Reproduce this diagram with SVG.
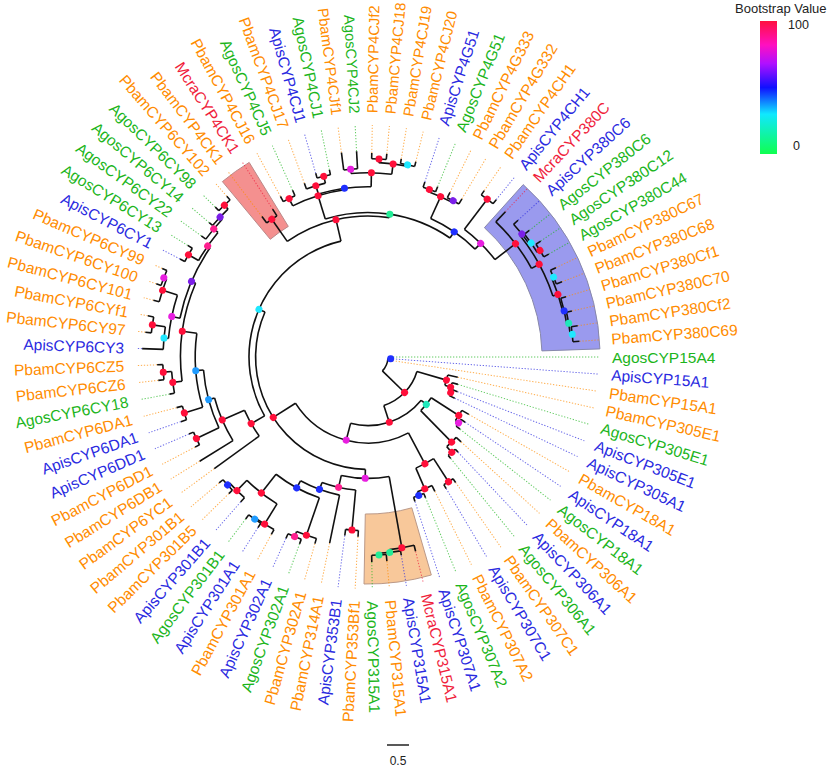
<svg xmlns="http://www.w3.org/2000/svg" width="827" height="768" viewBox="0 0 827 768">
<style>
text{font-family:"Liberation Sans",Arial,Helvetica,sans-serif}
#hl path{stroke-width:1}
#cn circle{fill:none;stroke:#111;stroke-width:1.6}
#cn path{fill:none;stroke:#111;stroke-width:1.6}
#lv path{fill:none;stroke-width:1;stroke-dasharray:1.3 1.7;opacity:.7}
#lv text{font-size:15.5px;dominant-baseline:central}
#lv .t text{font-size:14.8px}
#lv .l text{text-anchor:end}
.g path{stroke:#1cb51c}.g text{fill:#1cb51c}
.b path{stroke:#2a2ae0}.b text{fill:#2a2ae0}
.o path{stroke:#ff8c00}.o text{fill:#ff8c00}
.r path{stroke:#f01e3c}.r text{fill:#f01e3c}
.R{fill:#ff0f3a}.P{fill:#ff1f8f}.M{fill:#e81fe0}.V{fill:#7b1fe8}.B{fill:#1f2fff}.S{fill:#1f9bff}.C{fill:#1fe8ff}.T{fill:#1fe8bb}.G{fill:#22ec96}
</style>
<defs>
<linearGradient id="bs" x1="0" y1="0" x2="0" y2="1">
<stop offset="0" stop-color="#ff1040"/><stop offset=".18" stop-color="#ff10c0"/><stop offset=".32" stop-color="#b010ff"/><stop offset=".5" stop-color="#1010ff"/><stop offset=".7" stop-color="#10e8ff"/><stop offset="1" stop-color="#10ff50"/>
</linearGradient>
</defs>
<g transform="translate(368,357)">
<g id="hl">
<path d="M-145.6 -175.4A228 228 0 0 1 -118.8 -194.6L-79.7 -130.6A153 153 0 0 0 -97.7 -117.7Z" fill="#f4908f" stroke="#b88"/>
<path d="M155.2 -172.4A232 232 0 0 1 231.9 -8.1L173.9 -6.1A174 174 0 0 0 116.4 -129.3Z" fill="#9a9aee" stroke="#88a"/>
<path d="M63.3 218A227 227 0 0 1 -4 227L-2.7 157A157 157 0 0 0 43.8 150.8Z" fill="#f8c89a" stroke="#b98"/>
</g>
<g id="lv">
<g id="AgosCYP15A4" class="g"><path d="M25 0H232" transform="rotate(0)"/><text x="244" transform="rotate(0)">AgosCYP15A4</text></g>
<g id="ApisCYP15A1" class="b"><path d="M25 0H232" transform="rotate(4.24)"/><text x="244" transform="rotate(4.24)">ApisCYP15A1</text></g>
<g id="PbamCYP15A1" class="o"><path d="M25 0H232" transform="rotate(8.47)"/><text x="244" transform="rotate(8.47)">PbamCYP15A1</text></g>
<g id="PbamCYP305E1" class="o"><path d="M92 0H232" transform="rotate(12.71)"/><text x="244" transform="rotate(12.71)">PbamCYP305E1</text></g>
<g id="AgosCYP305E1" class="g"><path d="M94 0H232" transform="rotate(16.94)"/><text x="244" transform="rotate(16.94)">AgosCYP305E1</text></g>
<g id="ApisCYP305E1" class="b"><path d="M96 0H232" transform="rotate(21.18)"/><text x="244" transform="rotate(21.18)">ApisCYP305E1</text></g>
<g id="ApisCYP305A1" class="b"><path d="M96 0H232" transform="rotate(25.41)"/><text x="244" transform="rotate(25.41)">ApisCYP305A1</text></g>
<g id="PbamCYP18A1" class="o"><path d="M116 0H232" transform="rotate(29.65)"/><text x="244" transform="rotate(29.65)">PbamCYP18A1</text></g>
<g id="ApisCYP18A1" class="b"><path d="M117 0H232" transform="rotate(33.88)"/><text x="244" transform="rotate(33.88)">ApisCYP18A1</text></g>
<g id="AgosCYP18A1" class="g"><path d="M117 0H232" transform="rotate(38.12)"/><text x="244" transform="rotate(38.12)">AgosCYP18A1</text></g>
<g id="PbamCYP306A1" class="o"><path d="M126 0H232" transform="rotate(42.35)"/><text x="244" transform="rotate(42.35)">PbamCYP306A1</text></g>
<g id="ApisCYP306A1" class="b"><path d="M131 0H232" transform="rotate(46.59)"/><text x="244" transform="rotate(46.59)">ApisCYP306A1</text></g>
<g id="AgosCYP306A1" class="g"><path d="M131 0H232" transform="rotate(50.82)"/><text x="244" transform="rotate(50.82)">AgosCYP306A1</text></g>
<g id="PbamCYP307C1" class="o"><path d="M153 0H232" transform="rotate(55.06)"/><text x="244" transform="rotate(55.06)">PbamCYP307C1</text></g>
<g id="ApisCYP307C1" class="b"><path d="M153 0H232" transform="rotate(59.29)"/><text x="244" transform="rotate(59.29)">ApisCYP307C1</text></g>
<g id="PbamCYP307A2" class="o"><path d="M150 0H232" transform="rotate(63.53)"/><text x="244" transform="rotate(63.53)">PbamCYP307A2</text></g>
<g id="AgosCYP307A2" class="g"><path d="M152 0H232" transform="rotate(67.76)"/><text x="244" transform="rotate(67.76)">AgosCYP307A2</text></g>
<g id="ApisCYP307A1" class="b"><path d="M152 0H232" transform="rotate(72)"/><text x="244" transform="rotate(72)">ApisCYP307A1</text></g>
<g id="McraCYP315A1" class="r"><path d="M200 0H232" transform="rotate(76.24)"/><text x="244" transform="rotate(76.24)">McraCYP315A1</text></g>
<g id="ApisCYP315A1" class="b"><path d="M201 0H232" transform="rotate(80.47)"/><text x="244" transform="rotate(80.47)">ApisCYP315A1</text></g>
<g id="PbamCYP315A1" class="o"><path d="M205 0H232" transform="rotate(84.71)"/><text x="244" transform="rotate(84.71)">PbamCYP315A1</text></g>
<g id="AgosCYP315A1" class="g"><path d="M205 0H232" transform="rotate(88.94)"/><text x="244" transform="rotate(88.94)">AgosCYP315A1</text></g>
<g id="PbamCYP353Bf1" class="o l"><path d="M180 0H232" transform="rotate(93.18)"/><text x="-244" transform="rotate(-86.82)">PbamCYP353Bf1</text></g>
<g id="ApisCYP353B1" class="b l"><path d="M180 0H232" transform="rotate(97.41)"/><text x="-244" transform="rotate(-82.59)">ApisCYP353B1</text></g>
<g id="PbamCYP314A1" class="o l"><path d="M190 0H232" transform="rotate(101.65)"/><text x="-244" transform="rotate(-78.35)">PbamCYP314A1</text></g>
<g id="PbamCYP302A1" class="o l"><path d="M194 0H232" transform="rotate(105.88)"/><text x="-244" transform="rotate(-74.12)">PbamCYP302A1</text></g>
<g id="AgosCYP302A1" class="g l"><path d="M199 0H232" transform="rotate(110.12)"/><text x="-244" transform="rotate(-69.88)">AgosCYP302A1</text></g>
<g id="ApisCYP302A1" class="b l"><path d="M199 0H232" transform="rotate(114.35)"/><text x="-244" transform="rotate(-65.65)">ApisCYP302A1</text></g>
<g id="PbamCYP301A1" class="o l"><path d="M202 0H232" transform="rotate(118.59)"/><text x="-244" transform="rotate(-61.41)">PbamCYP301A1</text></g>
<g id="ApisCYP301A1" class="b l"><path d="M203 0H232" transform="rotate(122.82)"/><text x="-244" transform="rotate(-57.18)">ApisCYP301A1</text></g>
<g id="AgosCYP301B1" class="g l"><path d="M203 0H232" transform="rotate(127.06)"/><text x="-244" transform="rotate(-52.94)">AgosCYP301B1</text></g>
<g id="ApisCYP301B1" class="b l"><path d="M193 0H232" transform="rotate(131.29)"/><text x="-244" transform="rotate(-48.71)">ApisCYP301B1</text></g>
<g id="PbamCYP301B5" class="o l"><path d="M195 0H232" transform="rotate(135.53)"/><text x="-244" transform="rotate(-44.47)">PbamCYP301B5</text></g>
<g id="PbamCYP301B1" class="o l"><path d="M195 0H232" transform="rotate(139.76)"/><text x="-244" transform="rotate(-40.24)">PbamCYP301B1</text></g>
<g id="PbamCYP6YC1" class="o l"><path d="M190 0H232" transform="rotate(144)"/><text x="-244" transform="rotate(-36)">PbamCYP6YC1</text></g>
<g id="PbamCYP6DB1" class="o l"><path d="M198 0H232" transform="rotate(148.24)"/><text x="-244" transform="rotate(-31.76)">PbamCYP6DB1</text></g>
<g id="PbamCYP6DD1" class="o l"><path d="M195 0H232" transform="rotate(152.47)"/><text x="-244" transform="rotate(-27.53)">PbamCYP6DD1</text></g>
<g id="ApisCYP6DD1" class="b l"><path d="M195 0H232" transform="rotate(156.71)"/><text x="-244" transform="rotate(-23.29)">ApisCYP6DD1</text></g>
<g id="ApisCYP6DA1" class="b l"><path d="M198 0H232" transform="rotate(160.94)"/><text x="-244" transform="rotate(-19.06)">ApisCYP6DA1</text></g>
<g id="PbamCYP6DA1" class="o l"><path d="M198 0H232" transform="rotate(165.18)"/><text x="-244" transform="rotate(-14.82)">PbamCYP6DA1</text></g>
<g id="AgosCYP6CY18" class="g l"><path d="M202 0H232" transform="rotate(169.41)"/><text x="-244" transform="rotate(-10.59)">AgosCYP6CY18</text></g>
<g id="PbamCYP6CZ6" class="o l"><path d="M211 0H232" transform="rotate(173.65)"/><text x="-244" transform="rotate(-6.35)">PbamCYP6CZ6</text></g>
<g id="PbamCYP6CZ5" class="o l"><path d="M211 0H232" transform="rotate(177.88)"/><text x="-244" transform="rotate(-2.12)">PbamCYP6CZ5</text></g>
<g id="ApisCYP6CY3" class="b l"><path d="M226 0H232" transform="rotate(182.12)"/><text x="-244" transform="rotate(2.12)">ApisCYP6CY3</text></g>
<g id="PbamCYP6CY97" class="o l"><path d="M224 0H232" transform="rotate(186.35)"/><text x="-244" transform="rotate(6.35)">PbamCYP6CY97</text></g>
<g id="PbamCYP6CYf1" class="o l"><path d="M224 0H232" transform="rotate(190.59)"/><text x="-244" transform="rotate(10.59)">PbamCYP6CYf1</text></g>
<g id="PbamCYP6CY101" class="o l"><path d="M222 0H232" transform="rotate(194.82)"/><text x="-244" transform="rotate(14.82)">PbamCYP6CY101</text></g>
<g id="PbamCYP6CY100" class="o l"><path d="M224 0H232" transform="rotate(199.06)"/><text x="-244" transform="rotate(19.06)">PbamCYP6CY100</text></g>
<g id="PbamCYP6CY99" class="o l"><path d="M224 0H232" transform="rotate(203.29)"/><text x="-244" transform="rotate(23.29)">PbamCYP6CY99</text></g>
<g id="ApisCYP6CY1" class="b l"><path d="M212 0H232" transform="rotate(207.53)"/><text x="-244" transform="rotate(27.53)">ApisCYP6CY1</text></g>
<g id="AgosCYP6CY13" class="g l"><path d="M212 0H232" transform="rotate(211.76)"/><text x="-244" transform="rotate(31.76)">AgosCYP6CY13</text></g>
<g id="AgosCYP6CY22" class="g l"><path d="M206 0H232" transform="rotate(216)"/><text x="-244" transform="rotate(36)">AgosCYP6CY22</text></g>
<g id="AgosCYP6CY14" class="g l"><path d="M208 0H232" transform="rotate(220.24)"/><text x="-244" transform="rotate(40.24)">AgosCYP6CY14</text></g>
<g id="AgosCYP6CY98" class="g l"><path d="M214 0H232" transform="rotate(224.47)"/><text x="-244" transform="rotate(44.47)">AgosCYP6CY98</text></g>
<g id="PbamCYP6CY102" class="o l"><path d="M214 0H232" transform="rotate(228.71)"/><text x="-244" transform="rotate(48.71)">PbamCYP6CY102</text></g>
<g id="PbamCYP4CK1" class="o l"><path d="M176 0H232" transform="rotate(232.94)"/><text x="-244" transform="rotate(52.94)">PbamCYP4CK1</text></g>
<g id="McraCYP4CK1" class="r l"><path d="M176 0H232" transform="rotate(237.18)"/><text x="-244" transform="rotate(57.18)">McraCYP4CK1</text></g>
<g id="PbamCYP4CJ16" class="o l"><path d="M183 0H232" transform="rotate(241.41)"/><text x="-244" transform="rotate(61.41)">PbamCYP4CJ16</text></g>
<g id="AgosCYP4CJ5" class="g l"><path d="M183 0H232" transform="rotate(245.65)"/><text x="-244" transform="rotate(65.65)">AgosCYP4CJ5</text></g>
<g id="PbamCYP4CJ17" class="o l"><path d="M185 0H232" transform="rotate(249.88)"/><text x="-244" transform="rotate(69.88)">PbamCYP4CJ17</text></g>
<g id="ApisCYP4CJ1" class="b l"><path d="M191 0H232" transform="rotate(254.12)"/><text x="-244" transform="rotate(74.12)">ApisCYP4CJ1</text></g>
<g id="AgosCYP4CJ1" class="g l"><path d="M191 0H232" transform="rotate(258.35)"/><text x="-244" transform="rotate(78.35)">AgosCYP4CJ1</text></g>
<g id="PbamCYP4CJf1" class="o l t"><path d="M206 0H232" transform="rotate(262.59)"/><text x="-244" transform="rotate(82.59)">PbamCYP4CJf1</text></g>
<g id="AgosCYP4CJ2" class="g l t"><path d="M206 0H232" transform="rotate(266.82)"/><text x="-244" transform="rotate(86.82)">AgosCYP4CJ2</text></g>
<g id="PbamCYP4CJf2" class="o t"><path d="M204 0H232" transform="rotate(271.06)"/><text x="244" transform="rotate(271.06)">PbamCYP4CJf2</text></g>
<g id="PbamCYP4CJ18" class="o t"><path d="M204 0H232" transform="rotate(275.29)"/><text x="244" transform="rotate(275.29)">PbamCYP4CJ18</text></g>
<g id="PbamCYP4CJ19" class="o t"><path d="M201 0H232" transform="rotate(279.53)"/><text x="244" transform="rotate(279.53)">PbamCYP4CJ19</text></g>
<g id="PbamCYP4CJ20" class="o t"><path d="M201 0H232" transform="rotate(283.76)"/><text x="244" transform="rotate(283.76)">PbamCYP4CJ20</text></g>
<g id="ApisCYP4G51" class="b"><path d="M184 0H232" transform="rotate(288)"/><text x="244" transform="rotate(288)">ApisCYP4G51</text></g>
<g id="AgosCYP4G51" class="g"><path d="M184 0H232" transform="rotate(292.24)"/><text x="244" transform="rotate(292.24)">AgosCYP4G51</text></g>
<g id="PbamCYP4G333" class="o"><path d="M184 0H232" transform="rotate(296.47)"/><text x="244" transform="rotate(296.47)">PbamCYP4G333</text></g>
<g id="PbamCYP4G332" class="o"><path d="M184 0H232" transform="rotate(300.71)"/><text x="244" transform="rotate(300.71)">PbamCYP4G332</text></g>
<g id="PbamCYP4CH1" class="o"><path d="M203 0H232" transform="rotate(304.94)"/><text x="244" transform="rotate(304.94)">PbamCYP4CH1</text></g>
<g id="ApisCYP4CH1" class="b"><path d="M203 0H232" transform="rotate(309.18)"/><text x="244" transform="rotate(309.18)">ApisCYP4CH1</text></g>
<g id="McraCYP380C" class="r"><path d="M200 0H232" transform="rotate(313.41)"/><text x="244" transform="rotate(313.41)">McraCYP380C</text></g>
<g id="ApisCYP380C6" class="b"><path d="M203 0H232" transform="rotate(317.65)"/><text x="244" transform="rotate(317.65)">ApisCYP380C6</text></g>
<g id="AgosCYP380C6" class="g"><path d="M205 0H232" transform="rotate(321.88)"/><text x="244" transform="rotate(321.88)">AgosCYP380C6</text></g>
<g id="AgosCYP380C12" class="g"><path d="M208 0H232" transform="rotate(326.12)"/><text x="244" transform="rotate(326.12)">AgosCYP380C12</text></g>
<g id="AgosCYP380C44" class="g"><path d="M208 0H232" transform="rotate(330.35)"/><text x="244" transform="rotate(330.35)">AgosCYP380C44</text></g>
<g id="PbamCYP380C67" class="o"><path d="M208 0H232" transform="rotate(334.59)"/><text x="244" transform="rotate(334.59)">PbamCYP380C67</text></g>
<g id="PbamCYP380C68" class="o"><path d="M208 0H232" transform="rotate(338.82)"/><text x="244" transform="rotate(338.82)">PbamCYP380C68</text></g>
<g id="PbamCYP380Cf1" class="o"><path d="M207 0H232" transform="rotate(343.06)"/><text x="244" transform="rotate(343.06)">PbamCYP380Cf1</text></g>
<g id="PbamCYP380C70" class="o"><path d="M209 0H232" transform="rotate(347.29)"/><text x="244" transform="rotate(347.29)">PbamCYP380C70</text></g>
<g id="PbamCYP380Cf2" class="o"><path d="M212 0H232" transform="rotate(351.53)"/><text x="244" transform="rotate(351.53)">PbamCYP380Cf2</text></g>
<g id="PbamCYP380C69" class="o"><path d="M212 0H232" transform="rotate(355.76)"/><text x="244" transform="rotate(355.76)">PbamCYP380C69</text></g>
</g>
<g id="cn">
<circle r="20" pathLength="360" stroke-dasharray="39.94 360" transform="rotate(4.24)"/><path d="M20 0H22.7" transform="rotate(4.24)"/><path d="M20 0H51" transform="rotate(44.17)"/>
<circle r="22.7" pathLength="360" stroke-dasharray="8.47 360"/><path d="M22.7 0H25"/><path d="M22.7 0H25" transform="rotate(4.24)"/><path d="M22.7 0H25" transform="rotate(8.47)"/>
<circle r="51" pathLength="360" stroke-dasharray="55.52 360" transform="rotate(16.41)"/><path d="M51 0H81.8" transform="rotate(16.41)"/><path d="M51 0H68.6" transform="rotate(71.93)"/>
<circle r="81.8" pathLength="360" stroke-dasharray="7.41 360" transform="rotate(12.71)"/><path d="M81.8 0H92" transform="rotate(12.71)"/><path d="M81.8 0H88" transform="rotate(20.12)"/>
<circle r="88" pathLength="360" stroke-dasharray="6.36 360" transform="rotate(16.94)"/><path d="M88 0H94" transform="rotate(16.94)"/><path d="M88 0H90" transform="rotate(23.3)"/>
<circle r="90" pathLength="360" stroke-dasharray="4.23 360" transform="rotate(21.18)"/><path d="M90 0H96" transform="rotate(21.18)"/><path d="M90 0H96" transform="rotate(25.41)"/>
<circle r="68.6" pathLength="360" stroke-dasharray="65.55 360" transform="rotate(39.15)"/><path d="M68.6 0H75.2" transform="rotate(39.15)"/><path d="M68.6 0H86" transform="rotate(104.7)"/>
<circle r="75.2" pathLength="360" stroke-dasharray="12.7 360" transform="rotate(32.8)"/><path d="M75.2 0H108" transform="rotate(32.8)"/><path d="M75.2 0H119.3" transform="rotate(45.5)"/>
<circle r="108" pathLength="360" stroke-dasharray="6.35 360" transform="rotate(29.65)"/><path d="M108 0H116" transform="rotate(29.65)"/><path d="M108 0H112" transform="rotate(36)"/>
<circle r="112" pathLength="360" stroke-dasharray="4.24 360" transform="rotate(33.88)"/><path d="M112 0H117" transform="rotate(33.88)"/><path d="M112 0H117" transform="rotate(38.12)"/>
<circle r="119.3" pathLength="360" stroke-dasharray="6.35 360" transform="rotate(42.35)"/><path d="M119.3 0H126" transform="rotate(42.35)"/><path d="M119.3 0H127" transform="rotate(48.7)"/>
<circle r="127" pathLength="360" stroke-dasharray="4.23 360" transform="rotate(46.59)"/><path d="M127 0H131" transform="rotate(46.59)"/><path d="M127 0H131" transform="rotate(50.82)"/>
<circle r="86" pathLength="360" stroke-dasharray="85.53 360" transform="rotate(61.94)"/><path d="M86 0H121" transform="rotate(61.94)"/><path d="M86 0H112.4" transform="rotate(147.47)"/>
<circle r="121" pathLength="360" stroke-dasharray="9.52 360" transform="rotate(57.18)"/><path d="M121 0H148.5" transform="rotate(57.18)"/><path d="M121 0H143.6" transform="rotate(66.7)"/>
<circle r="148.5" pathLength="360" stroke-dasharray="4.23 360" transform="rotate(55.06)"/><path d="M148.5 0H153" transform="rotate(55.06)"/><path d="M148.5 0H153" transform="rotate(59.29)"/>
<circle r="143.6" pathLength="360" stroke-dasharray="6.35 360" transform="rotate(63.53)"/><path d="M143.6 0H150" transform="rotate(63.53)"/><path d="M143.6 0H147.5" transform="rotate(69.88)"/>
<circle r="147.5" pathLength="360" stroke-dasharray="4.24 360" transform="rotate(67.76)"/><path d="M147.5 0H152" transform="rotate(67.76)"/><path d="M147.5 0H152" transform="rotate(72)"/>
<circle r="112.4" pathLength="360" stroke-dasharray="112.27 360" transform="rotate(91.33)"/><path d="M112.4 0H121.4" transform="rotate(91.33)"/><path d="M112.4 0H119" transform="rotate(203.6)"/>
<circle r="121.4" pathLength="360" stroke-dasharray="22.77 360" transform="rotate(79.94)"/><path d="M121.4 0H193.8" transform="rotate(79.94)"/><path d="M121.4 0H133.6" transform="rotate(102.71)"/>
<circle r="193.8" pathLength="360" stroke-dasharray="7.41 360" transform="rotate(76.24)"/><path d="M193.8 0H200" transform="rotate(76.24)"/><path d="M193.8 0H196.6" transform="rotate(83.65)"/>
<circle r="196.6" pathLength="360" stroke-dasharray="6.35 360" transform="rotate(80.47)"/><path d="M196.6 0H201" transform="rotate(80.47)"/><path d="M196.6 0H198.3" transform="rotate(86.82)"/>
<circle r="198.3" pathLength="360" stroke-dasharray="4.23 360" transform="rotate(84.71)"/><path d="M198.3 0H205" transform="rotate(84.71)"/><path d="M198.3 0H205" transform="rotate(88.94)"/>
<circle r="133.6" pathLength="360" stroke-dasharray="14.82 360" transform="rotate(95.3)"/><path d="M133.6 0H173.8" transform="rotate(95.3)"/><path d="M133.6 0H141" transform="rotate(110.12)"/>
<circle r="173.8" pathLength="360" stroke-dasharray="4.23 360" transform="rotate(93.18)"/><path d="M173.8 0H180" transform="rotate(93.18)"/><path d="M173.8 0H180" transform="rotate(97.41)"/>
<circle r="141" pathLength="360" stroke-dasharray="16.94 360" transform="rotate(101.65)"/><path d="M141 0H190" transform="rotate(101.65)"/><path d="M141 0H149" transform="rotate(118.59)"/>
<circle r="149" pathLength="360" stroke-dasharray="19.06 360" transform="rotate(109.06)"/><path d="M149 0H188.6" transform="rotate(109.06)"/><path d="M149 0H172.8" transform="rotate(128.12)"/>
<circle r="188.6" pathLength="360" stroke-dasharray="6.36 360" transform="rotate(105.88)"/><path d="M188.6 0H194" transform="rotate(105.88)"/><path d="M188.6 0H194" transform="rotate(112.24)"/>
<circle r="194" pathLength="360" stroke-dasharray="4.23 360" transform="rotate(110.12)"/><path d="M194 0H199" transform="rotate(110.12)"/><path d="M194 0H199" transform="rotate(114.35)"/>
<circle r="172.8" pathLength="360" stroke-dasharray="12.7 360" transform="rotate(121.77)"/><path d="M172.8 0H196.5" transform="rotate(121.77)"/><path d="M172.8 0H187.2" transform="rotate(134.47)"/>
<circle r="196.5" pathLength="360" stroke-dasharray="6.35 360" transform="rotate(118.59)"/><path d="M196.5 0H202" transform="rotate(118.59)"/><path d="M196.5 0H197.8" transform="rotate(124.94)"/>
<circle r="197.8" pathLength="360" stroke-dasharray="4.24 360" transform="rotate(122.82)"/><path d="M197.8 0H203" transform="rotate(122.82)"/><path d="M197.8 0H203" transform="rotate(127.06)"/>
<circle r="187.2" pathLength="360" stroke-dasharray="6.36 360" transform="rotate(131.29)"/><path d="M187.2 0H193" transform="rotate(131.29)"/><path d="M187.2 0H190" transform="rotate(137.65)"/>
<circle r="190" pathLength="360" stroke-dasharray="4.23 360" transform="rotate(135.53)"/><path d="M190 0H195" transform="rotate(135.53)"/><path d="M190 0H195" transform="rotate(139.76)"/>
<circle r="119" pathLength="360" stroke-dasharray="106.55 360" transform="rotate(150.32)"/><path d="M119 0H134.5" transform="rotate(150.32)"/><path d="M119 0H141" transform="rotate(256.87)"/>
<circle r="134.5" pathLength="360" stroke-dasharray="12.64 360" transform="rotate(144)"/><path d="M134.5 0H190" transform="rotate(144)"/><path d="M134.5 0H158.8" transform="rotate(156.64)"/>
<circle r="158.8" pathLength="360" stroke-dasharray="16.79 360" transform="rotate(148.24)"/><path d="M158.8 0H198" transform="rotate(148.24)"/><path d="M158.8 0H165" transform="rotate(165.03)"/>
<circle r="165" pathLength="360" stroke-dasharray="20.88 360" transform="rotate(154.59)"/><path d="M165 0H190" transform="rotate(154.59)"/><path d="M165 0H172.8" transform="rotate(175.47)"/>
<circle r="190" pathLength="360" stroke-dasharray="4.24 360" transform="rotate(152.47)"/><path d="M190 0H195" transform="rotate(152.47)"/><path d="M190 0H195" transform="rotate(156.71)"/>
<circle r="172.8" pathLength="360" stroke-dasharray="24.82 360" transform="rotate(163.06)"/><path d="M172.8 0H192" transform="rotate(163.06)"/><path d="M172.8 0H187.5" transform="rotate(187.88)"/>
<circle r="192" pathLength="360" stroke-dasharray="4.24 360" transform="rotate(160.94)"/><path d="M192 0H198" transform="rotate(160.94)"/><path d="M192 0H198" transform="rotate(165.18)"/>
<circle r="187.5" pathLength="360" stroke-dasharray="30.58 360" transform="rotate(172.59)"/><path d="M187.5 0H196.9" transform="rotate(172.59)"/><path d="M187.5 0H192" transform="rotate(203.17)"/>
<circle r="196.9" pathLength="360" stroke-dasharray="6.36 360" transform="rotate(169.41)"/><path d="M196.9 0H202" transform="rotate(169.41)"/><path d="M196.9 0H205.3" transform="rotate(175.77)"/>
<circle r="205.3" pathLength="360" stroke-dasharray="4.23 360" transform="rotate(173.65)"/><path d="M205.3 0H211" transform="rotate(173.65)"/><path d="M205.3 0H211" transform="rotate(177.88)"/>
<circle r="192" pathLength="360" stroke-dasharray="23.03 360" transform="rotate(191.65)"/><path d="M192 0H200.4" transform="rotate(191.65)"/><path d="M192 0H195" transform="rotate(214.68)"/>
<circle r="200.4" pathLength="360" stroke-dasharray="12.7 360" transform="rotate(185.3)"/><path d="M200.4 0H204.9" transform="rotate(185.3)"/><path d="M200.4 0H216" transform="rotate(198)"/>
<circle r="204.9" pathLength="360" stroke-dasharray="6.35 360" transform="rotate(182.12)"/><path d="M204.9 0H226" transform="rotate(182.12)"/><path d="M204.9 0H218" transform="rotate(188.47)"/>
<circle r="218" pathLength="360" stroke-dasharray="4.24 360" transform="rotate(186.35)"/><path d="M218 0H224" transform="rotate(186.35)"/><path d="M218 0H224" transform="rotate(190.59)"/>
<circle r="216" pathLength="360" stroke-dasharray="6.36 360" transform="rotate(194.82)"/><path d="M216 0H222" transform="rotate(194.82)"/><path d="M216 0H219" transform="rotate(201.18)"/>
<circle r="219" pathLength="360" stroke-dasharray="4.23 360" transform="rotate(199.06)"/><path d="M219 0H224" transform="rotate(199.06)"/><path d="M219 0H224" transform="rotate(203.29)"/>
<circle r="195" pathLength="360" stroke-dasharray="10.05 360" transform="rotate(209.65)"/><path d="M195 0H206.6" transform="rotate(209.65)"/><path d="M195 0H200.5" transform="rotate(219.7)"/>
<circle r="206.6" pathLength="360" stroke-dasharray="4.23 360" transform="rotate(207.53)"/><path d="M206.6 0H212" transform="rotate(207.53)"/><path d="M206.6 0H212" transform="rotate(211.76)"/>
<circle r="200.5" pathLength="360" stroke-dasharray="7.41 360" transform="rotate(216)"/><path d="M200.5 0H206" transform="rotate(216)"/><path d="M200.5 0H203.6" transform="rotate(223.41)"/>
<circle r="203.6" pathLength="360" stroke-dasharray="6.35 360" transform="rotate(220.24)"/><path d="M203.6 0H208" transform="rotate(220.24)"/><path d="M203.6 0H209" transform="rotate(226.59)"/>
<circle r="209" pathLength="360" stroke-dasharray="4.24 360" transform="rotate(224.47)"/><path d="M209 0H214" transform="rotate(224.47)"/><path d="M209 0H214" transform="rotate(228.71)"/>
<circle r="141" pathLength="360" stroke-dasharray="43.62 360" transform="rotate(235.06)"/><path d="M141 0H168" transform="rotate(235.06)"/><path d="M141 0H144.5" transform="rotate(278.68)"/>
<circle r="168" pathLength="360" stroke-dasharray="4.24 360" transform="rotate(232.94)"/><path d="M168 0H176" transform="rotate(232.94)"/><path d="M168 0H176" transform="rotate(237.18)"/>
<circle r="144.5" pathLength="360" stroke-dasharray="51.76 360" transform="rotate(252.8)"/><path d="M144.5 0H168.8" transform="rotate(252.8)"/><path d="M144.5 0H152" transform="rotate(304.56)"/>
<circle r="168.8" pathLength="360" stroke-dasharray="18.53 360" transform="rotate(243.53)"/><path d="M168.8 0H177" transform="rotate(243.53)"/><path d="M168.8 0H170.3" transform="rotate(262.06)"/>
<circle r="177" pathLength="360" stroke-dasharray="4.24 360" transform="rotate(241.41)"/><path d="M177 0H183" transform="rotate(241.41)"/><path d="M177 0H183" transform="rotate(245.65)"/>
<circle r="170.3" pathLength="360" stroke-dasharray="18 360" transform="rotate(253.06)"/><path d="M170.3 0H179" transform="rotate(253.06)"/><path d="M170.3 0H184.3" transform="rotate(271.06)"/>
<circle r="179" pathLength="360" stroke-dasharray="6.36 360" transform="rotate(249.88)"/><path d="M179 0H185" transform="rotate(249.88)"/><path d="M179 0H186" transform="rotate(256.24)"/>
<circle r="186" pathLength="360" stroke-dasharray="4.23 360" transform="rotate(254.12)"/><path d="M186 0H191" transform="rotate(254.12)"/><path d="M186 0H191" transform="rotate(258.35)"/>
<circle r="184.3" pathLength="360" stroke-dasharray="12.7 360" transform="rotate(264.71)"/><path d="M184.3 0H188.6" transform="rotate(264.71)"/><path d="M184.3 0H194.7" transform="rotate(277.41)"/>
<circle r="188.6" pathLength="360" stroke-dasharray="4.23 360" transform="rotate(262.59)"/><path d="M188.6 0H206" transform="rotate(262.59)"/><path d="M188.6 0H206" transform="rotate(266.82)"/>
<circle r="194.7" pathLength="360" stroke-dasharray="8.47 360" transform="rotate(273.18)"/><path d="M194.7 0H198.3" transform="rotate(273.18)"/><path d="M194.7 0H196.2" transform="rotate(281.65)"/>
<circle r="198.3" pathLength="360" stroke-dasharray="4.23 360" transform="rotate(271.06)"/><path d="M198.3 0H204" transform="rotate(271.06)"/><path d="M198.3 0H204" transform="rotate(275.29)"/>
<circle r="196.2" pathLength="360" stroke-dasharray="4.23 360" transform="rotate(279.53)"/><path d="M196.2 0H201" transform="rotate(279.53)"/><path d="M196.2 0H201" transform="rotate(283.76)"/>
<circle r="152" pathLength="360" stroke-dasharray="20.42 360" transform="rotate(294.35)"/><path d="M152 0H176.1" transform="rotate(294.35)"/><path d="M152 0H160" transform="rotate(314.77)"/>
<circle r="176.1" pathLength="360" stroke-dasharray="8.47 360" transform="rotate(290.12)"/><path d="M176.1 0H178.4" transform="rotate(290.12)"/><path d="M176.1 0H178" transform="rotate(298.59)"/>
<circle r="178.4" pathLength="360" stroke-dasharray="4.24 360" transform="rotate(288)"/><path d="M178.4 0H184" transform="rotate(288)"/><path d="M178.4 0H184" transform="rotate(292.24)"/>
<circle r="178" pathLength="360" stroke-dasharray="4.24 360" transform="rotate(296.47)"/><path d="M178 0H184" transform="rotate(296.47)"/><path d="M178 0H184" transform="rotate(300.71)"/>
<circle r="160" pathLength="360" stroke-dasharray="15.42 360" transform="rotate(307.06)"/><path d="M160 0H197.8" transform="rotate(307.06)"/><path d="M160 0H186" transform="rotate(322.48)"/>
<circle r="197.8" pathLength="360" stroke-dasharray="4.24 360" transform="rotate(304.94)"/><path d="M197.8 0H203" transform="rotate(304.94)"/><path d="M197.8 0H203" transform="rotate(309.18)"/>
<circle r="186" pathLength="360" stroke-dasharray="18.13 360" transform="rotate(313.41)"/><path d="M186 0H200" transform="rotate(313.41)"/><path d="M186 0H194.7" transform="rotate(331.54)"/>
<circle r="194.7" pathLength="360" stroke-dasharray="20.39 360" transform="rotate(321.35)"/><path d="M194.7 0H197" transform="rotate(321.35)"/><path d="M194.7 0H200" transform="rotate(341.74)"/>
<circle r="197" pathLength="360" stroke-dasharray="7.41 360" transform="rotate(317.65)"/><path d="M197 0H203" transform="rotate(317.65)"/><path d="M197 0H199" transform="rotate(325.06)"/>
<circle r="199" pathLength="360" stroke-dasharray="6.36 360" transform="rotate(321.88)"/><path d="M199 0H205" transform="rotate(321.88)"/><path d="M199 0H202.3" transform="rotate(328.24)"/>
<circle r="202.3" pathLength="360" stroke-dasharray="4.23 360" transform="rotate(326.12)"/><path d="M202.3 0H208" transform="rotate(326.12)"/><path d="M202.3 0H208" transform="rotate(330.35)"/>
<circle r="200" pathLength="360" stroke-dasharray="10.05 360" transform="rotate(336.71)"/><path d="M200 0H202" transform="rotate(336.71)"/><path d="M200 0H201.5" transform="rotate(346.76)"/>
<circle r="202" pathLength="360" stroke-dasharray="4.23 360" transform="rotate(334.59)"/><path d="M202 0H208" transform="rotate(334.59)"/><path d="M202 0H208" transform="rotate(338.82)"/>
<circle r="201.5" pathLength="360" stroke-dasharray="7.41 360" transform="rotate(343.06)"/><path d="M201.5 0H207" transform="rotate(343.06)"/><path d="M201.5 0H203.5" transform="rotate(350.47)"/>
<circle r="203.5" pathLength="360" stroke-dasharray="6.36 360" transform="rotate(347.29)"/><path d="M203.5 0H209" transform="rotate(347.29)"/><path d="M203.5 0H205.5" transform="rotate(353.65)"/>
<circle r="205.5" pathLength="360" stroke-dasharray="4.23 360" transform="rotate(351.53)"/><path d="M205.5 0H212" transform="rotate(351.53)"/><path d="M205.5 0H212" transform="rotate(355.76)"/>
</g>
<g id="nd">
<g id="n15"><circle class="B" cx="22.7" r="3.5" transform="rotate(4.24)"/></g>
<g id="nA"><circle class="R" cx="51" r="3.5" transform="rotate(44.17)"/></g>
<g id="n305"><circle class="R" cx="81.8" r="3.5" transform="rotate(16.41)"/></g>
<g id="n305b"><circle class="R" cx="88" r="3.5" transform="rotate(20.12)"/></g>
<g id="n305c"><circle class="R" cx="90" r="3.5" transform="rotate(23.3)"/></g>
<g id="nB"><circle class="R" cx="68.6" r="3.5" transform="rotate(71.93)"/></g>
<g id="nC1"><circle class="T" cx="75.2" r="3.5" transform="rotate(39.15)"/></g>
<g id="n18"><circle class="R" cx="108" r="3.5" transform="rotate(32.8)"/></g>
<g id="n18b"><circle class="M" cx="112" r="3.5" transform="rotate(36)"/></g>
<g id="n306"><circle class="R" cx="119.3" r="3.5" transform="rotate(45.5)"/></g>
<g id="n306b"><circle class="R" cx="127" r="3.5" transform="rotate(48.7)"/></g>
<g id="nM1"><circle class="M" cx="86" r="3.5" transform="rotate(104.7)"/></g>
<g id="n307"><circle class="R" cx="121" r="3.5" transform="rotate(61.94)"/></g>
<g id="n307C"><circle class="R" cx="148.5" r="3.5" transform="rotate(57.18)"/></g>
<g id="n307A"><circle class="R" cx="143.6" r="3.5" transform="rotate(66.7)"/></g>
<g id="n307Ab"><circle class="B" cx="147.5" r="3.5" transform="rotate(69.88)"/></g>
<g id="nC"><circle class="R" cx="112.4" r="3.5" transform="rotate(147.47)"/></g>
<g id="nM2"><circle class="M" cx="121.4" r="3.5" transform="rotate(91.33)"/></g>
<g id="n315"><circle class="R" cx="193.8" r="3.5" transform="rotate(79.94)"/></g>
<g id="n315b"><circle class="G" cx="196.6" r="3.5" transform="rotate(83.65)"/></g>
<g id="n315c"><circle class="G" cx="198.3" r="3.5" transform="rotate(86.82)"/></g>
<g id="npk"><circle class="P" cx="133.6" r="3.5" transform="rotate(102.71)"/></g>
<g id="n353"><circle class="R" cx="173.8" r="3.5" transform="rotate(95.3)"/></g>
<g id="nb1"><circle class="B" cx="141" r="3.5" transform="rotate(110.12)"/></g>
<g id="nb2"><circle class="B" cx="149" r="3.5" transform="rotate(118.59)"/></g>
<g id="n302"><circle class="R" cx="188.6" r="3.5" transform="rotate(109.06)"/></g>
<g id="n302b"><circle class="P" cx="194" r="3.5" transform="rotate(112.24)"/></g>
<g id="n301"><circle class="R" cx="172.8" r="3.5" transform="rotate(128.12)"/></g>
<g id="n301a"><circle class="R" cx="196.5" r="3.5" transform="rotate(121.77)"/></g>
<g id="n301a2"><circle class="S" cx="197.8" r="3.5" transform="rotate(124.94)"/></g>
<g id="n301b"><circle class="R" cx="187.2" r="3.5" transform="rotate(134.47)"/></g>
<g id="n301b2"><circle class="B" cx="190" r="3.5" transform="rotate(137.65)"/></g>
<g id="nD"><circle class="C" cx="119" r="3.5" transform="rotate(203.6)"/></g>
<g id="n6"><circle class="R" cx="134.5" r="3.5" transform="rotate(150.32)"/></g>
<g id="n6b"><circle class="R" cx="158.8" r="3.5" transform="rotate(156.64)"/></g>
<g id="n6c"><circle class="S" cx="165" r="3.5" transform="rotate(165.03)"/></g>
<g id="n3637"><circle class="R" cx="190" r="3.5" transform="rotate(154.59)"/></g>
<g id="n6d"><circle class="S" cx="172.8" r="3.5" transform="rotate(175.47)"/></g>
<g id="n3839"><circle class="R" cx="192" r="3.5" transform="rotate(163.06)"/></g>
<g id="n6e"><circle class="R" cx="187.5" r="3.5" transform="rotate(187.88)"/></g>
<g id="n40"><circle class="R" cx="196.9" r="3.5" transform="rotate(172.59)"/></g>
<g id="n4142"><circle class="R" cx="205.3" r="3.5" transform="rotate(175.77)"/></g>
<g id="nCY"><circle class="V" cx="192" r="3.5" transform="rotate(203.17)"/></g>
<g id="nCYa"><circle class="M" cx="200.4" r="3.5" transform="rotate(191.65)"/></g>
<g id="n43"><circle class="C" cx="204.9" r="3.5" transform="rotate(185.3)"/></g>
<g id="n4445"><circle class="R" cx="218" r="3.5" transform="rotate(188.47)"/></g>
<g id="n46"><circle class="R" cx="216" r="3.5" transform="rotate(198)"/></g>
<g id="n4748"><circle class="M" cx="219" r="3.5" transform="rotate(201.18)"/></g>
<g id="nCYb"><circle class="P" cx="195" r="3.5" transform="rotate(214.68)"/></g>
<g id="n4950"><circle class="R" cx="206.6" r="3.5" transform="rotate(209.65)"/></g>
<g id="n51"><circle class="P" cx="200.5" r="3.5" transform="rotate(219.7)"/></g>
<g id="n52"><circle class="V" cx="203.6" r="3.5" transform="rotate(223.41)"/></g>
<g id="n5354"><circle class="R" cx="209" r="3.5" transform="rotate(226.59)"/></g>
<g id="nE"><circle class="R" cx="141" r="3.5" transform="rotate(256.87)"/></g>
<g id="n5556"><circle class="R" cx="168" r="3.5" transform="rotate(235.06)"/></g>
<g id="nF"><circle class="G" cx="144.5" r="3.5" transform="rotate(278.68)"/></g>
<g id="n5767"><circle class="R" cx="168.8" r="3.5" transform="rotate(252.8)"/></g>
<g id="n5758"><circle class="R" cx="177" r="3.5" transform="rotate(243.53)"/></g>
<g id="n5967"><circle class="B" cx="170.3" r="3.5" transform="rotate(262.06)"/></g>
<g id="n59"><circle class="R" cx="179" r="3.5" transform="rotate(253.06)"/></g>
<g id="n6061"><circle class="R" cx="186" r="3.5" transform="rotate(256.24)"/></g>
<g id="n6267"><circle class="R" cx="184.3" r="3.5" transform="rotate(271.06)"/></g>
<g id="n6263"><circle class="M" cx="188.6" r="3.5" transform="rotate(264.71)"/></g>
<g id="n6467"><circle class="R" cx="194.7" r="3.5" transform="rotate(277.41)"/></g>
<g id="n6465"><circle class="R" cx="198.3" r="3.5" transform="rotate(273.18)"/></g>
<g id="n6667"><circle class="C" cx="196.2" r="3.5" transform="rotate(281.65)"/></g>
<g id="nG"><circle class="B" cx="152" r="3.5" transform="rotate(304.56)"/></g>
<g id="n6871"><circle class="R" cx="176.1" r="3.5" transform="rotate(294.35)"/></g>
<g id="n6869"><circle class="R" cx="178.4" r="3.5" transform="rotate(290.12)"/></g>
<g id="n7071"><circle class="V" cx="178" r="3.5" transform="rotate(298.59)"/></g>
<g id="nH"><circle class="M" cx="160" r="3.5" transform="rotate(314.77)"/></g>
<g id="n7273"><circle class="R" cx="197.8" r="3.5" transform="rotate(307.06)"/></g>
<g id="n380"><circle class="R" cx="186" r="3.5" transform="rotate(322.48)"/></g>
<g id="n7584"><circle class="R" cx="194.7" r="3.5" transform="rotate(331.54)"/></g>
<g id="n75"><circle class="V" cx="197" r="3.5" transform="rotate(321.35)"/></g>
<g id="n76"><circle class="C" cx="199" r="3.5" transform="rotate(325.06)"/></g>
<g id="n7778"><circle class="R" cx="202.3" r="3.5" transform="rotate(328.24)"/></g>
<g id="n7984"><circle class="R" cx="200" r="3.5" transform="rotate(341.74)"/></g>
<g id="n7980"><circle class="C" cx="202" r="3.5" transform="rotate(336.71)"/></g>
<g id="n81"><circle class="B" cx="201.5" r="3.5" transform="rotate(346.76)"/></g>
<g id="n82"><circle class="T" cx="203.5" r="3.5" transform="rotate(350.47)"/></g>
<g id="n8384"><circle class="C" cx="205.5" r="3.5" transform="rotate(353.65)"/></g>
</g>
</g>
<g id="legend">
<text x="735" y="13" font-size="13" fill="#222">Bootstrap Value</text>
<rect x="760" y="21" width="17" height="133" fill="url(#bs)"/>
<text x="788" y="29" font-size="12.5" fill="#222">100</text>
<text x="793" y="150" font-size="12.5" fill="#222">0</text>
</g>
<g id="scale">
<path d="M387 745H409" stroke="#222" stroke-width="1.5"/>
<text x="398" y="765" font-size="12" fill="#222" text-anchor="middle">0.5</text>
</g>
</svg>
